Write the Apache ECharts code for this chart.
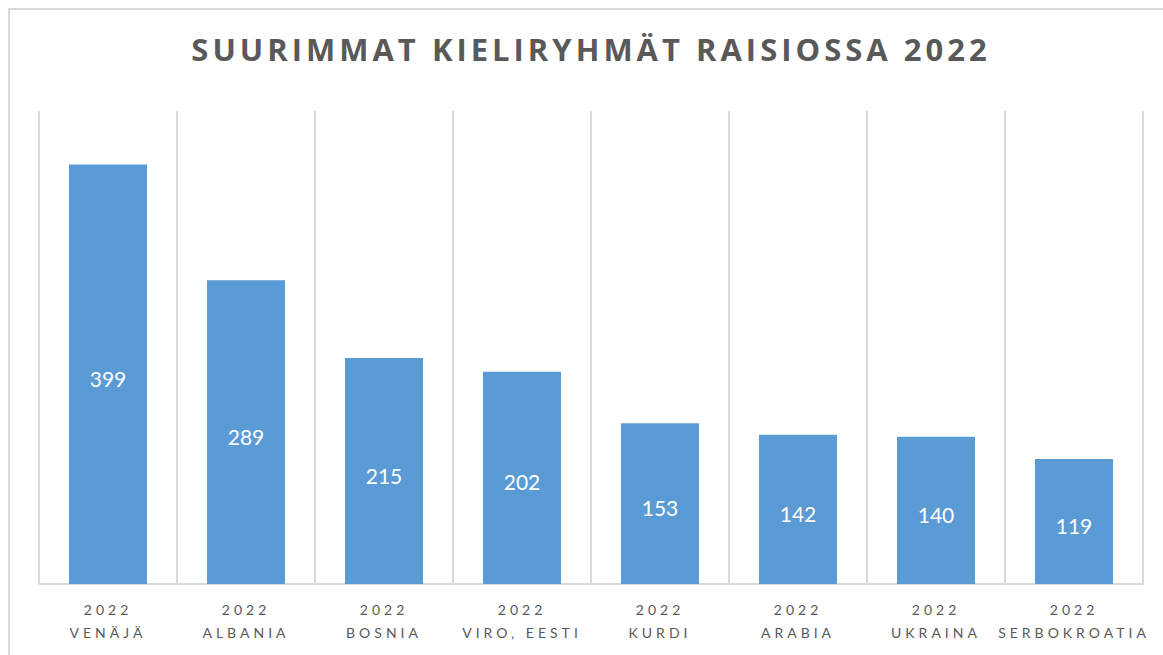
<!DOCTYPE html>
<html>
<head>
<meta charset="utf-8">
<title>Suurimmat kieliryhmät Raisiossa 2022</title>
<script src="https://cdn.jsdelivr.net/npm/echarts@6/dist/echarts.min.js"></script>
<style>
  html, body { margin: 0; padding: 0; background: #fff; }
  #app { width: 1163px; height: 655px; }
  /* canvas text has no letter-spacing, so the svg renderer + css does it */
  #app text[style*="31px"] { letter-spacing: 4px; }
  #app text[style*="14px"] { letter-spacing: 4px; }
</style>
</head>
<body>
<div id="app"></div>
<script>
const year = '2022';
const languages = ['VENÄJÄ', 'ALBANIA', 'BOSNIA', 'VIRO, EESTI', 'KURDI', 'ARABIA', 'UKRAINA', 'SERBOKROATIA'];
const speakers = [399, 289, 215, 202, 153, 142, 140, 119];

const grey = '#595959';
const lineGrey = '#d9d9d9';

const buildOption = () => ({
  animation: false,
  title: {
    text: 'SUURIMMAT KIELIRYHMÄT RAISIOSSA ' + year,
    left: 586,
    textAlign: 'center',
    top: 28,
    textStyle: {
      color: grey,
      fontSize: 31,
      fontWeight: 'bold',
      fontFamily: 'Open Sans'
    }
  },
  graphic: [
    {
      type: 'rect',
      silent: true,
      shape: { x: 9, y: 9, width: 1300, height: 800 },
      style: { fill: 'none', stroke: lineGrey, lineWidth: 2 }
    }
  ],
  grid: { left: 39, right: 20, top: 111, bottom: 71 },
  xAxis: {
    type: 'category',
    data: languages,
    axisLine: { lineStyle: { color: lineGrey, width: 2 } },
    axisTick: { show: false },
    splitLine: { show: true, lineStyle: { color: lineGrey, width: 2 } },
    axisLabel: {
      color: grey,
      fontSize: 14,
      fontFamily: 'Lato',
      lineHeight: 23,
      margin: 14,
      interval: 0,
      formatter: name => year + '\n' + name
    }
  },
  yAxis: {
    type: 'value',
    min: 0,
    max: 450,
    show: false
  },
  series: [
    {
      type: 'bar',
      data: speakers,
      barWidth: 78,
      itemStyle: { color: '#5b9bd5' },
      label: {
        show: true,
        position: 'inside',
        offset: [0, 4],
        color: '#fff',
        fontSize: 21,
        fontFamily: 'Lato'
      }
    }
  ]
});

const chart = echarts.init(document.getElementById('app'), null, { renderer: 'svg' });
chart.setOption(buildOption());
</script>
</body>
</html>
